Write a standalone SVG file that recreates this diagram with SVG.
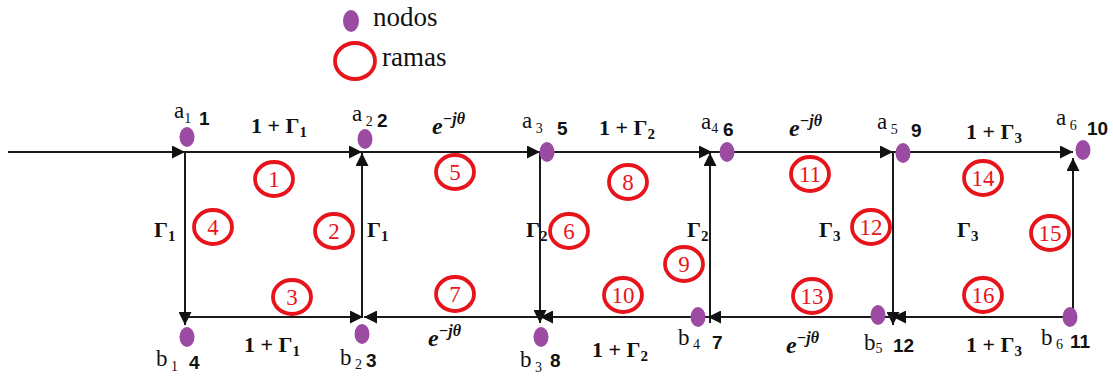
<svg xmlns="http://www.w3.org/2000/svg" width="1113" height="376" viewBox="0 0 1113 376">
<style>
.ln{stroke:#1a1a1a;stroke-width:2;fill:none}
.arr{marker-end:url(#ah)}
.dot{fill:#9c4ba3}
.br{fill:none;stroke:#e8141c;stroke-width:3.8}
.bn{font-family:"Liberation Serif",serif;font-size:23px;fill:#e8141c;text-anchor:middle}
.nm{font-family:"Liberation Serif",serif;font-size:23px;fill:#111}
.sb{font-size:14px}
.id{font-family:"Liberation Sans",Arial,sans-serif;font-weight:bold;font-size:19px;fill:#111}
.el{font-family:"Liberation Serif",serif;font-weight:bold;font-size:22px;fill:#111}
.es{font-size:15px}
.ex{font-family:"Liberation Serif",serif;font-weight:bold;font-style:italic;font-size:24px;fill:#111}
.xs{font-size:16px}
.lg{font-family:"Liberation Serif",serif;font-size:27px;fill:#111}
</style>
<defs>
<marker id="ah" markerUnits="userSpaceOnUse" markerWidth="13" markerHeight="13" refX="13" refY="6.5" orient="auto">
<path d="M0,0 L13,6.5 L0,13 z" fill="#111"/>
</marker>
</defs>
<rect width="1113" height="376" fill="#fff"/>

<g id="legend">
<ellipse class="dot" cx="351" cy="21" rx="8" ry="11"/>
<text class="lg" x="373" y="26">nodos</text>
<ellipse class="br" cx="355" cy="61" rx="20" ry="18"/>
<text class="lg" x="382" y="66">ramas</text>
</g>

<g id="connectors">
<path class="ln arr" d="M8,152 H185"/>
<path class="ln arr" d="M185,152 H362"/>
<path class="ln arr" d="M362,152 H540"/>
<path class="ln arr" d="M540,152 H712"/>
<path class="ln arr" d="M710,152 H893"/>
<path class="ln arr" d="M893,152 H1073"/>
<path class="ln arr" d="M185,152 V325"/>
<path class="ln arr" d="M362,317 V153"/>
<path class="ln arr" d="M540,152 V323"/>
<path class="ln arr" d="M710,323 V153"/>
<path class="ln arr" d="M893,152 V325"/>
<path class="ln arr" d="M1073,325 V158"/>
<path class="ln arr" d="M185,317 H363"/>
<path class="ln arr" d="M540,317 H364"/>
<path class="ln arr" d="M710,317 H540"/>
<path class="ln arr" d="M893,317 H708"/>
<path class="ln arr" d="M1073,317 H893"/>
</g>

<g id="edge-labels">
<text class="el" x="251" y="133">1 + Γ<tspan class="es" dy="4">1</tspan></text>
<text class="ex" x="432" y="134">e<tspan class="xs" dy="-10">−jθ</tspan></text>
<text class="el" x="599" y="135">1 + Γ<tspan class="es" dy="4">2</tspan></text>
<text class="ex" x="789" y="136">e<tspan class="xs" dy="-10">−jθ</tspan></text>
<text class="el" x="966" y="139">1 + Γ<tspan class="es" dy="4">3</tspan></text>
<text class="el" x="244" y="352">1 + Γ<tspan class="es" dy="4">1</tspan></text>
<text class="ex" x="428" y="346">e<tspan class="xs" dy="-10">−jθ</tspan></text>
<text class="el" x="592" y="357">1 + Γ<tspan class="es" dy="4">2</tspan></text>
<text class="ex" x="786" y="353">e<tspan class="xs" dy="-10">−jθ</tspan></text>
<text class="el" x="966" y="352">1 + Γ<tspan class="es" dy="4">3</tspan></text>
<text class="el" x="154" y="237">Γ<tspan class="es" dy="4">1</tspan></text>
<text class="el" x="367" y="237">Γ<tspan class="es" dy="4">1</tspan></text>
<text class="el" x="526" y="237">Γ<tspan class="es" dy="4">2</tspan></text>
<text class="el" x="687" y="237">Γ<tspan class="es" dy="4">2</tspan></text>
<text class="el" x="819" y="237">Γ<tspan class="es" dy="4">3</tspan></text>
<text class="el" x="957" y="237">Γ<tspan class="es" dy="4">3</tspan></text>
</g>

<g id="node-a1"><ellipse class="dot" cx="187" cy="137" rx="7.5" ry="10"/><text class="nm" x="174" y="118">a<tspan class="sb" dy="5">1</tspan></text><text class="id" x="199" y="125">1</text></g>
<g id="node-a2"><ellipse class="dot" cx="365" cy="139" rx="7.5" ry="10"/><text class="nm" x="352" y="121">a<tspan class="sb" dy="5"> 2</tspan></text><text class="id" x="377" y="127">2</text></g>
<g id="node-a3"><ellipse class="dot" cx="547" cy="152" rx="7.5" ry="10"/><text class="nm" x="522" y="128">a<tspan class="sb" dy="5"> 3</tspan></text><text class="id" x="557" y="135">5</text></g>
<g id="node-a4"><ellipse class="dot" cx="727" cy="152" rx="7.5" ry="10"/><text class="nm" x="701" y="129">a<tspan class="sb" dy="4">4</tspan></text><text class="id" x="723" y="136">6</text></g>
<g id="node-a5"><ellipse class="dot" cx="903" cy="153" rx="7.5" ry="10"/><text class="nm" x="877" y="129">a<tspan class="sb" dy="5"> 5</tspan></text><text class="id" x="911" y="137">9</text></g>
<g id="node-a6"><ellipse class="dot" cx="1083" cy="150" rx="7.5" ry="10"/><text class="nm" x="1056" y="125">a<tspan class="sb" dy="5"> 6</tspan></text><text class="id" x="1087" y="135">10</text></g>
<g id="node-b1"><ellipse class="dot" cx="187" cy="337" rx="7.5" ry="10"/><text class="nm" x="156" y="366">b<tspan class="sb" dy="5"> 1</tspan></text><text class="id" x="189" y="369">4</text></g>
<g id="node-b2"><ellipse class="dot" cx="362" cy="334" rx="7.5" ry="10"/><text class="nm" x="340" y="365">b<tspan class="sb" dy="4"> 2</tspan></text><text class="id" x="366" y="367">3</text></g>
<g id="node-b3"><ellipse class="dot" cx="541" cy="337" rx="7.5" ry="10"/><text class="nm" x="520" y="367">b<tspan class="sb" dy="5"> 3</tspan></text><text class="id" x="550" y="367">8</text></g>
<g id="node-b4"><ellipse class="dot" cx="698" cy="317" rx="7.5" ry="10"/><text class="nm" x="678" y="345">b<tspan class="sb" dy="4"> 4</tspan></text><text class="id" x="712" y="349">7</text></g>
<g id="node-b5"><ellipse class="dot" cx="878" cy="315" rx="7.5" ry="10"/><text class="nm" x="864" y="350">b<tspan class="sb" dy="3">5</tspan></text><text class="id" x="893" y="352">12</text></g>
<g id="node-b6"><ellipse class="dot" cx="1070" cy="317" rx="7.5" ry="10"/><text class="nm" x="1041" y="345">b<tspan class="sb" dy="4"> 6</tspan></text><text class="id" x="1070" y="348">11</text></g>

<g id="branch-1"><ellipse class="br" cx="274" cy="179" rx="19" ry="17"/><text class="bn" x="274" y="187">1</text></g>
<g id="branch-2"><ellipse class="br" cx="334" cy="231" rx="19" ry="17"/><text class="bn" x="334" y="239">2</text></g>
<g id="branch-3"><ellipse class="br" cx="292" cy="297" rx="19" ry="17"/><text class="bn" x="292" y="305">3</text></g>
<g id="branch-4"><ellipse class="br" cx="213" cy="227" rx="19" ry="17"/><text class="bn" x="213" y="235">4</text></g>
<g id="branch-5"><ellipse class="br" cx="455" cy="172" rx="19" ry="17"/><text class="bn" x="455" y="180">5</text></g>
<g id="branch-6"><ellipse class="br" cx="569" cy="231" rx="19" ry="17"/><text class="bn" x="569" y="239">6</text></g>
<g id="branch-7"><ellipse class="br" cx="455" cy="294" rx="19" ry="17"/><text class="bn" x="455" y="302">7</text></g>
<g id="branch-8"><ellipse class="br" cx="628" cy="182" rx="19" ry="17"/><text class="bn" x="628" y="190">8</text></g>
<g id="branch-9"><ellipse class="br" cx="684" cy="264" rx="19" ry="17"/><text class="bn" x="684" y="272">9</text></g>
<g id="branch-10"><ellipse class="br" cx="623" cy="295" rx="19" ry="17"/><text class="bn" x="623" y="303">10</text></g>
<g id="branch-11"><ellipse class="br" cx="810" cy="174" rx="19" ry="17"/><text class="bn" x="810" y="182">11</text></g>
<g id="branch-12"><ellipse class="br" cx="871" cy="227" rx="19" ry="17"/><text class="bn" x="871" y="235">12</text></g>
<g id="branch-13"><ellipse class="br" cx="812" cy="296" rx="19" ry="17"/><text class="bn" x="812" y="304">13</text></g>
<g id="branch-14"><ellipse class="br" cx="983" cy="178" rx="19" ry="17"/><text class="bn" x="983" y="186">14</text></g>
<g id="branch-15"><ellipse class="br" cx="1050" cy="233" rx="19" ry="17"/><text class="bn" x="1050" y="241">15</text></g>
<g id="branch-16"><ellipse class="br" cx="983" cy="295" rx="19" ry="17"/><text class="bn" x="983" y="303">16</text></g>
</svg>
